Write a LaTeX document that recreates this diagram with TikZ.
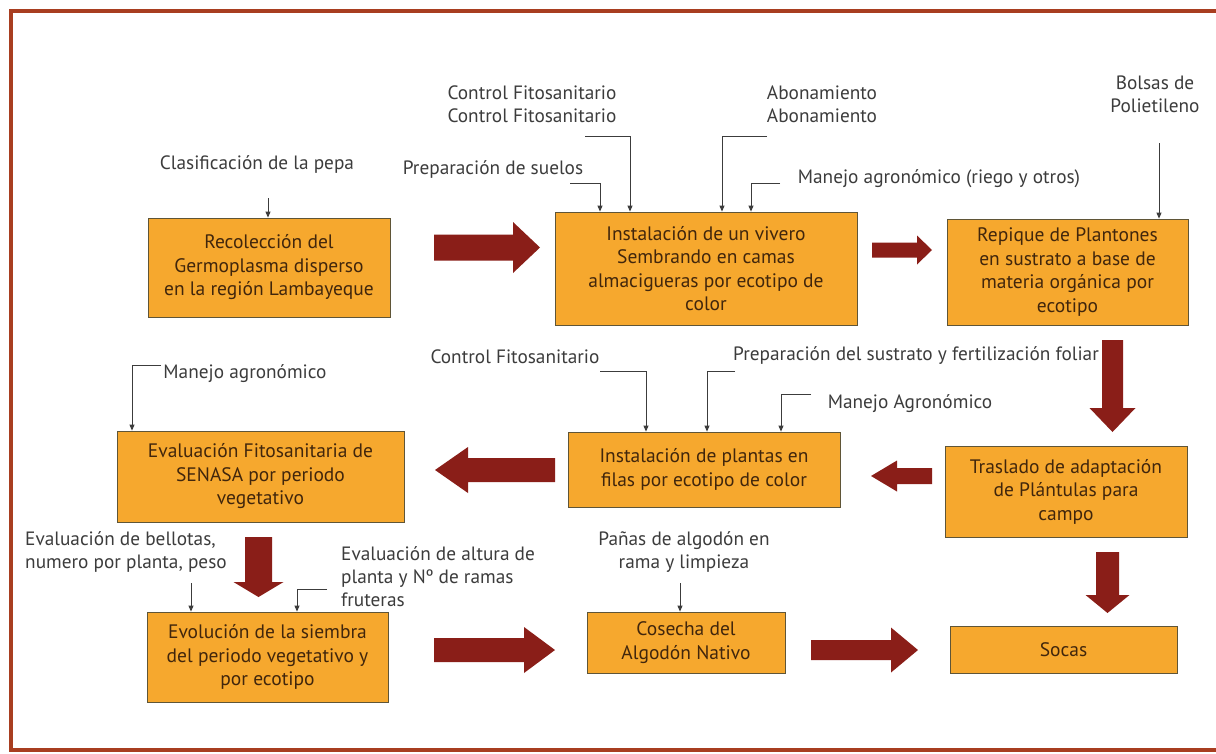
\documentclass[tikz,border=0pt]{standalone}
\usepackage{fontspec}
\setmainfont{PT Sans}
\usetikzlibrary{arrows.meta,calc}
\definecolor{boxfill}{RGB}{246,168,46}
\definecolor{boxline}{RGB}{95,85,55}
\definecolor{boxtext}{RGB}{65,38,12}
\definecolor{labtext}{RGB}{60,60,60}
\definecolor{bigred}{RGB}{138,30,24}
\definecolor{framecol}{RGB}{168,62,32}
\newcommand\bigH[6]{% tail x, base x, tip x, center y, shaft half, head half
  \fill[bigred] (#1,#4-#5) -- (#2,#4-#5) -- (#2,#4-#6) -- (#3,#4) -- (#2,#4+#6) -- (#2,#4+#5) -- (#1,#4+#5) -- cycle;}
\newcommand\bigV[6]{% center x, tail y, base y, tip y, shaft half, head half
  \fill[bigred] (#1-#5,#2) -- (#1+#5,#2) -- (#1+#5,#3) -- (#1+#6,#3) -- (#1,#4) -- (#1-#6,#3) -- (#1-#5,#3) -- cycle;}
\begin{document}
\begin{tikzpicture}[x=1pt,y=-1pt,
  stepbox/.style={draw=boxline, line width=0.8pt, fill=boxfill, text=boxtext, align=center, inner sep=0pt, font=\fontsize{19.5}{23.5}\selectfont},
  lab/.style={text=labtext, inner sep=0pt, font=\fontsize{19.3}{23}\selectfont},
  conn/.style={draw=labtext, line width=0.9pt, -{Triangle[length=6pt,width=5pt]}},
]
\useasboundingbox (0,0) rectangle (1216,753);
\fill[white] (0,0) rectangle (1216,753);
\draw[framecol, line width=4pt] (1220,11) -- (11,11) -- (11,750) -- (1220,750);

% boxes
\node[stepbox, minimum width=242pt, minimum height=99pt] (b1) at (269,267.5) {Recolección del\\Germoplasma disperso\\en la región Lambayeque};
\node[stepbox, minimum width=302pt, minimum height=113pt] (b2) at (706,268.5) {Instalación de un vivero\\Sembrando en camas\\almacigueras por ecotipo de\\color};
\node[stepbox, minimum width=241pt, minimum height=106pt] (b3) at (1067.5,272) {Repique de Plantones\\en sustrato a base de\\materia orgánica por\\ecotipo};
\node[stepbox, minimum width=287pt, minimum height=91pt] (b4) at (260.5,476.5) {Evaluación Fitosanitaria de\\SENASA por periodo\\vegetativo};
\node[stepbox, minimum width=272pt, minimum height=75pt] (b5) at (704,469.5) {Instalación de plantas en\\filas por ecotipo de color};
\node[stepbox, minimum width=242pt, minimum height=91pt] (b6) at (1066,491.5) {Traslado de adaptación\\de Plántulas para\\campo};
\node[stepbox, minimum width=241pt, minimum height=90pt] (b7) at (267.5,657) {Evolución de la siembra\\del periodo vegetativo y\\por ecotipo};
\node[stepbox, minimum width=198pt, minimum height=61pt] (b8) at (686,642.5) {Cosecha del\\Algodón Nativo};
\node[stepbox, minimum width=227pt, minimum height=47pt] (b9) at (1063.5,649.5) {Socas};

% big arrows
\bigH{434}{513}{540}{247.5}{13}{25.5}
\bigH{872}{917}{932}{250}{7.5}{14.5}
\bigV{1112.5}{340}{408}{432}{10.5}{23}
\bigH{932}{897}{871}{476}{8}{15.5}
\bigH{555}{468}{435}{470}{12}{23}
\bigV{258.5}{537}{582}{597}{13.5}{25}
\bigH{434}{524}{555}{650}{12}{23}
\bigH{811}{891}{918}{650}{10}{22.5}
\bigV{1107.5}{552}{595}{613}{11.5}{22}

% labels
\node[lab] (l1) at (257,164) {Clasificación de la pepa};
\node[lab,align=center] (l2) at (532,104) {Control Fitosanitario\\Control Fitosanitario};
\node[lab] (l3) at (493,169) {Preparación de suelos};
\node[lab,align=center] (l4) at (822,104) {Abonamiento\\Abonamiento};
\node[lab] (l5) at (939,179) {Manejo agronómico (riego y otros)};
\node[lab,align=center] (l6) at (1155,94) {Bolsas de\\Polietileno};
\node[lab] (l7) at (515,357) {Control Fitosanitario};
\node[lab] (l8) at (916,356) {Preparación del sustrato y fertilización foliar};
\node[lab] (l9) at (910,404) {Manejo Agronómico};
\node[lab] (l10) at (245,374) {Manejo agronómico};
\node[lab,align=left,anchor=west] (l11) at (25,552) {Evaluación de bellotas,\\numero por planta, peso};
\node[lab,align=left,anchor=west] (l12) at (341,577) {Evaluación de altura de\\planta y Nº de ramas\\fruteras};
\node[lab,align=center] (l13) at (684,552) {Pañas de algodón en\\rama y limpieza};

% connectors
\coordinate (p1) at (268,198);
\draw[conn] (p1) -- (p1 |- b1.north);
\coordinate (p2) at (585,136); \coordinate (q2) at (630,136);
\draw[conn] (p2) -- (q2) -- (q2 |- b2.north);
\coordinate (p3) at (570,183); \coordinate (q3) at (600,183);
\draw[conn] (p3) -- (q3) -- (q3 |- b2.north);
\coordinate (p4) at (767,136); \coordinate (q4) at (722,136);
\draw[conn] (p4) -- (q4) -- (q4 |- b2.north);
\coordinate (p5) at (780,183); \coordinate (q5) at (751,183);
\draw[conn] (p5) -- (q5) -- (q5 |- b2.north);
\coordinate (p6) at (1159,143);
\draw[conn] (p6) -- (p6 |- b3.north);
\coordinate (p7) at (600,371); \coordinate (q7) at (646,371);
\draw[conn] (p7) -- (q7) -- (q7 |- b5.north);
\coordinate (p8) at (735,371); \coordinate (q8) at (707,371);
\draw[conn] (p8) -- (q8) -- (q8 |- b5.north);
\coordinate (p9) at (811,394); \coordinate (q9) at (781,394);
\draw[conn] (p9) -- (q9) -- (q9 |- b5.north);
\coordinate (p10) at (161,365); \coordinate (q10) at (132,365);
\draw[conn] (p10) -- (q10) -- (q10 |- b4.north);
\coordinate (p11) at (191,583);
\draw[conn] (p11) -- (p11 |- b7.north);
\coordinate (p12) at (327,589); \coordinate (q12) at (297,589);
\draw[conn] (p12) -- (q12) -- (q12 |- b7.north);
\coordinate (p13) at (680,583);
\draw[conn] (p13) -- (p13 |- b8.north);
\end{tikzpicture}
\end{document}
